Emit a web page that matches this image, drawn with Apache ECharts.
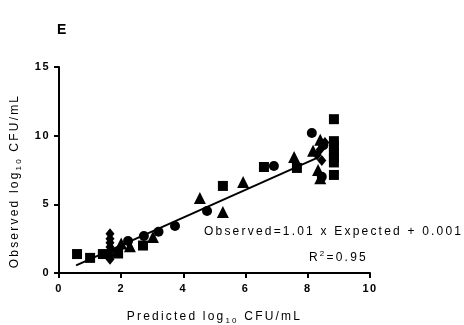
<!DOCTYPE html>
<html>
<head>
<meta charset="utf-8">
<script src="https://cdn.jsdelivr.net/npm/echarts@6/dist/echarts.min.js"></script>
<style>
html,body{margin:0;padding:0;background:#fff;}
#chart{width:464px;height:325px;}
</style>
</head>
<body>
<div id="chart"></div>
<script>
// ---- data ----
const squarePts = [[0.58,1.38],[1.0,1.1],[1.41,1.38],[1.9,1.42],[2.7,2.0],[5.27,6.34],[6.59,7.72],[7.65,7.65],[8.84,11.2],[8.84,9.6],[8.84,9.2],[8.84,8.8],[8.84,8.4],[8.84,8.05],[8.84,7.14]];
const circlePts = [[2.22,2.33],[2.73,2.7],[3.2,3.0],[3.73,3.42],[4.76,4.52],[6.91,7.79],[8.13,10.2],[8.5,9.3],[8.45,7.0]];
const trianglePts = [[2.0,2.15],[2.28,1.95],[3.02,2.62],[4.53,5.46],[5.27,4.44],[5.92,6.63],[7.56,8.45],[8.17,8.9],[8.4,9.7],[8.33,7.5],[8.4,6.9]];
const diamondPts = [[1.64,1.0],[1.64,1.3],[1.64,1.6],[1.64,1.9],[1.64,2.2],[1.64,2.5],[1.64,2.85],[8.55,9.5],[8.4,9.0],[8.45,8.2],[8.3,8.6]];
const fitLine = [[0.55,0.56],[8.3,8.38]];
const xTicks = [0,2,4,6,8,10];
const yTicks = [0,5,10,15];
const panelLabel = 'E';
const equationText = 'Observed=1.01 x Expected + 0.001';
const r2Value = '0.95';

// letter-spaced text like the reference
(function(){
  var P = CanvasRenderingContext2D.prototype;
  var ft = P.fillText, mt = P.measureText;
  function ls(ctx){
    var f = ctx.font || '';
    ctx.letterSpacing = /bold|700/.test(f) ? '1.5px' : '2.2px';
  }
  P.fillText = function(){ ls(this); return ft.apply(this, arguments); };
  P.measureText = function(){ ls(this); return mt.apply(this, arguments); };
})();

const FONT = 'Liberation Sans, Arial, sans-serif';
const chart = echarts.init(document.getElementById('chart'), null, {renderer:'canvas'});
const axisLine = {show:true, onZero:false, lineStyle:{color:'#000', width:2}};
const axisTick = {show:true, length:5, lineStyle:{color:'#000', width:2}};
function scatter(data, symbol, size){
  return {type:'scatter', data:data, symbol:symbol, symbolSize:size,
    itemStyle:{color:'#000', opacity:1}, z:3, silent:true};
}
chart.setOption({
  animation:false,
  backgroundColor:'#fff',
  textStyle:{fontFamily:FONT},
  title:[
    {text:panelLabel, left:52, top:17, textStyle:{fontSize:14, fontWeight:'bold', color:'#000', fontFamily:FONT}},
    {text:equationText, left:199, top:220, textStyle:{fontSize:12, fontWeight:'normal', color:'#000', fontFamily:FONT}},
    {text:'{a|R}{s|2}{a|=' + r2Value + '}', left:304, top:244,
      textStyle:{fontFamily:FONT, fontWeight:'normal', rich:{
        a:{fontSize:12, fontWeight:'normal', color:'#000', fontFamily:FONT, lineHeight:16, verticalAlign:'bottom'},
        s:{fontSize:8, fontWeight:'normal', color:'#000', fontFamily:FONT, lineHeight:16, verticalAlign:'top', padding:[0,0,6,0]}
      }}}
  ],
  grid:{left:59, right:94, top:67, bottom:52, outerBoundsMode:'none', containLabel:false},
  xAxis:{
    type:'value', min:0, max:10, interval:2,
    axisLine:axisLine, axisTick:axisTick, splitLine:{show:false},
    axisLabel:{color:'#000', fontWeight:'bold', fontSize:11, margin:10, fontFamily:FONT,
      formatter:function(v){ return xTicks.indexOf(v)>=0 ? String(v) : ''; }},
    name:'{a|Predicted log}{s|10}{a| CFU/mL}', nameLocation:'middle', nameGap:37,
    nameTextStyle:{rich:{
      a:{fontSize:12, color:'#000', fontFamily:FONT, lineHeight:16, verticalAlign:'top'},
      s:{fontSize:8, color:'#000', fontFamily:FONT, lineHeight:16, verticalAlign:'bottom', padding:[6,0,0,0]}
    }}
  },
  yAxis:{
    type:'value', min:0, max:15, interval:5,
    axisLine:axisLine, axisTick:axisTick, splitLine:{show:false},
    axisLabel:{color:'#000', fontWeight:'bold', fontSize:11, margin:9, fontFamily:FONT,
      formatter:function(v){ return yTicks.indexOf(v)>=0 ? String(v) : ''; }},
    name:'{a|Observed log}{s|10}{a| CFU/mL}', nameLocation:'middle', nameGap:21,
    nameTextStyle:{padding:[0,22,0,0], rich:{
      a:{fontSize:12, color:'#000', fontFamily:FONT, lineHeight:16, verticalAlign:'top'},
      s:{fontSize:8, color:'#000', fontFamily:FONT, lineHeight:16, verticalAlign:'bottom', padding:[6,0,0,0]}
    }}
  },
  series:[
    {type:'line', data:fitLine, symbol:'none', lineStyle:{color:'#000', width:2}, z:2, silent:true},
    scatter(squarePts, 'rect', 10),
    scatter(circlePts, 'circle', 10),
    scatter(trianglePts, 'triangle', 12),
    scatter(diamondPts, 'diamond', [9,11])
  ]
});
</script>
</body>
</html>
